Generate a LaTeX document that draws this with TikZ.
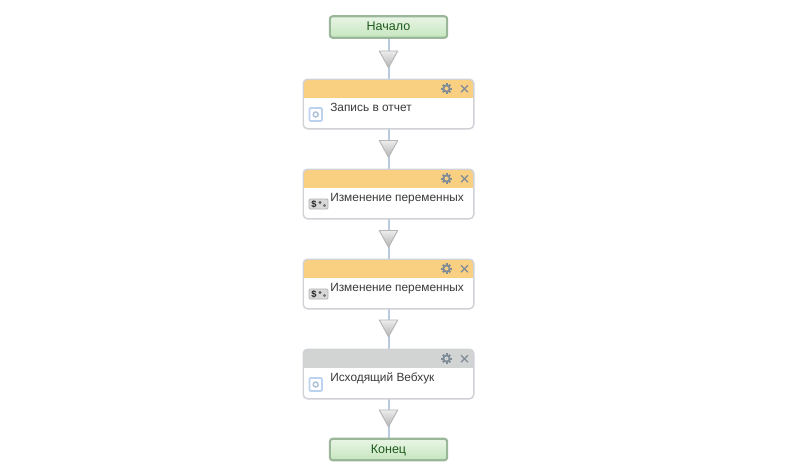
\documentclass[tikz,border=0pt]{standalone}
\usepackage{fontspec}
\setmainfont{Liberation Sans}
\usetikzlibrary{shapes.geometric,calc,backgrounds}
\definecolor{linkblue}{HTML}{B9C9E0}
\definecolor{cardline}{HTML}{D0D2D6}
\definecolor{hdrorange}{HTML}{F9CF82}
\definecolor{hdrgray}{HTML}{D2D3D3}
\definecolor{iconslate}{HTML}{7F8C98}
\definecolor{termline}{HTML}{9AB79A}
\definecolor{termtop}{HTML}{E9F5E6}
\definecolor{termbot}{HTML}{C5E6BE}
\definecolor{termtext}{HTML}{1F5A1F}
\definecolor{bodytext}{HTML}{3A3A3A}
\definecolor{iconblue}{HTML}{BBD3F0}
\definecolor{gatetop}{HTML}{EDEDED}
\definecolor{gatebot}{HTML}{B4B4B4}
\definecolor{gateline}{HTML}{B5B5B5}
\tikzset{
  x=0.75pt,y=-0.75pt,
  link/.style={draw=linkblue,line width=1.5pt},
  term/.style={rectangle,rounded corners=2.2pt,draw=termline,line width=1.6pt,
    top color=termtop,bottom color=termbot,minimum width=88pt,minimum height=16.2pt,
    inner sep=0pt,text=termtext,text height=6.6pt,text depth=0.6pt,
    font=\fontsize{9.4pt}{11pt}\selectfont},
  gate/.style={shape=isosceles triangle,shape border rotate=-90,isosceles triangle stretches,
    minimum width=13.8pt,minimum height=12.6pt,inner sep=0pt,draw=gateline,line width=0.7pt,
    line join=round,top color=gatetop,bottom color=gatebot,anchor=apex},
  card/.style={rectangle,fill=white,rounded corners=3.2pt,
    minimum width=127.5pt,minimum height=36.75pt,inner sep=0pt},
  cardedge/.style={draw=cardline,line width=1.1pt,rounded corners=3.2pt},
  cardlabel/.style={anchor=base west,inner sep=0pt,text=bodytext,font=\fontsize{8.9pt}{10pt}\selectfont},
  iconline/.style={draw=iconslate,line width=1pt},
}
\newcommand{\cardbody}[4]{% name, top y, header colour, label
  \node[card] (#1) at (388.5,#2+24.5) {};
  \begin{scope}
    \clip[rounded corners=3pt] (#1.north west) rectangle (#1.south east);
    \fill[#3] (303,#2) rectangle (474,#2+18);
  \end{scope}
  \draw[cardedge] (#1.south west) rectangle (#1.north east);
  \node[cardlabel] (#1label) at (330,#2+32) {#4};
  \foreach \a in {0,45,...,315}{\draw[iconslate,line width=1.5pt] ($(446.5,#2+9)+(\a:3.2)$) -- ($(446.5,#2+9)+(\a:5.3)$);}
  \draw[iconslate,line width=1.3pt] (446.5,#2+9) circle (3.1);
  \draw[iconline] (461,#2+5.8) -- (468,#2+12.7);
  \draw[iconline] (468,#2+5.8) -- (461,#2+12.7);
}
\newcommand{\blueicon}[1]{%
  \draw[iconblue,fill=white,line width=1.3pt,rounded corners=0.8pt] (309.5,#1+28.5) rectangle (322,#1+41.5);
  \draw[iconblue!80!gray,line width=1.1pt] (315.7,#1+35) circle (2.5);
}
\newcommand{\varicon}[1]{%
  \fill[gray!30,rounded corners=0.8pt] (309,#1+29.5) rectangle (328,#1+39.5);
  \draw[gray!60,line width=0.6pt,rounded corners=0.8pt] (309,#1+29.5) rectangle (328,#1+39.5);
  \node[inner sep=0pt,text=black!85,font=\fontsize{7pt}{7pt}\selectfont\bfseries] at (314,#1+34.5) {\$};
  \fill[black!65] (320,#1+33) circle (1.7);
  \fill[black!55] (324.5,#1+36) circle (1.7);
}
\begin{document}
\begin{tikzpicture}
\useasboundingbox (0,0) rectangle (806,471);
\node[term] (start) at (388.5,27) {Начало};
\cardbody{c1}{79.5}{hdrorange}{Запись в отчет}
\cardbody{c2}{169.5}{hdrorange}{Изменение переменных}
\cardbody{c3}{259.5}{hdrorange}{Изменение переменных}
\cardbody{c4}{349.5}{hdrgray}{Исходящий Вебхук}
\node[term] (end) at (388.5,449.5) {Конец};
\node[gate] (g1) at (388.5,69) {};
\node[gate] (g2) at (388.5,158.5) {};
\node[gate] (g3) at (388.5,248.5) {};
\node[gate] (g4) at (388.5,338) {};
\node[gate] (g5) at (388.5,428) {};
\blueicon{79.5}
\varicon{169.5}
\varicon{259.5}
\blueicon{349.5}
\begin{scope}[on background layer]
  \fill[white] (0,0) rectangle (806,471);
  \draw[link] (start) -- (g1.center) -- (c1);
  \draw[link] (c1) -- (g2.center) -- (c2);
  \draw[link] (c2) -- (g3.center) -- (c3);
  \draw[link] (c3) -- (g4.center) -- (c4);
  \draw[link] (c4) -- (g5.center) -- (end);
\end{scope}
\end{tikzpicture}
\end{document}
